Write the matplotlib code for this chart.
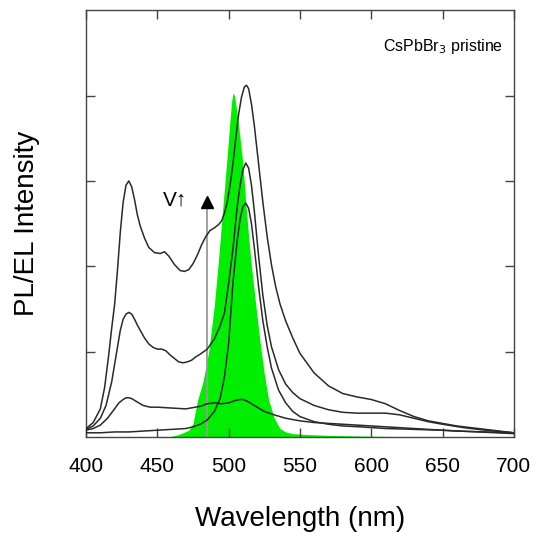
import numpy as np
import matplotlib
matplotlib.use('Agg')
import matplotlib.pyplot as plt

plt.rcParams['font.family'] = ['Liberation Sans', 'DejaVu Sans']

# ---------------------------------------------------------------------------
# EL spectra at increasing voltage
# ---------------------------------------------------------------------------
wl_A = [400, 405, 410, 413, 416, 418, 420, 422, 424, 426, 428, 430, 432, 434, 436,
        438, 441, 444, 448, 452, 455, 458, 462, 466, 469, 472, 475, 478, 481, 484,
        487, 490, 493, 495, 497, 499, 501, 503, 505, 507, 509, 511, 512.5, 514, 516,
        518, 520, 522, 524, 527, 530, 533, 536, 540, 545, 550, 560, 570, 580, 590,
        600, 610, 620, 630, 640, 650, 660, 670, 680, 690, 700]
int_A = [0.10, 0.17, 0.33, 0.58, 0.98, 1.28, 1.55, 1.95, 2.40, 2.75, 2.95, 3.00, 2.93, 2.78, 2.60,
         2.47, 2.33, 2.22, 2.16, 2.15, 2.17, 2.12, 2.02, 1.95, 1.94, 1.96, 2.03, 2.13, 2.25, 2.35,
         2.42, 2.45, 2.49, 2.53, 2.62, 2.75, 2.95, 3.20, 3.50, 3.78, 3.98, 4.10, 4.12, 4.08, 3.90,
         3.65, 3.35, 3.05, 2.75, 2.35, 2.02, 1.76, 1.56, 1.36, 1.16, 0.98, 0.75, 0.60, 0.51, 0.47,
         0.44, 0.39, 0.31, 0.24, 0.19, 0.16, 0.13, 0.11, 0.09, 0.07, 0.05]

wl_B = [400, 405, 410, 414, 418, 420, 422, 424, 426, 428, 430, 432, 434, 436, 438,
        441, 444, 447, 450, 453, 456, 459, 462, 465, 468, 471, 474, 477, 480, 485,
        490, 494, 497, 500, 503, 506, 508, 510, 512, 514, 516, 518, 521, 524, 527,
        530, 535, 540, 545, 550, 560, 570, 580, 590, 600, 610, 620, 630, 640, 650,
        665, 680, 700]
int_B = [0.09, 0.13, 0.22, 0.37, 0.65, 0.85, 1.05, 1.25, 1.38, 1.44, 1.46, 1.44, 1.38, 1.31, 1.25,
         1.16, 1.09, 1.05, 1.03, 1.03, 1.01, 0.96, 0.92, 0.88, 0.87, 0.88, 0.90, 0.94, 0.97, 1.03,
         1.15, 1.30, 1.45, 1.80, 2.20, 2.70, 2.95, 3.13, 3.21, 3.15, 2.95, 2.65, 2.12, 1.66, 1.31,
         1.06, 0.79, 0.62, 0.52, 0.45, 0.37, 0.32, 0.29, 0.28, 0.28, 0.28, 0.26, 0.22, 0.18, 0.15,
         0.11, 0.08, 0.05]

wl_C = [400, 405, 410, 415, 420, 423, 426, 428, 430, 432, 435, 440, 445, 450, 460,
        470, 480, 485, 490, 495, 500, 505, 508, 510, 513, 516, 520, 525, 530, 540,
        550, 560, 570, 580, 600, 620, 640, 660, 680, 700]
int_C = [0.08, 0.10, 0.14, 0.22, 0.33, 0.40, 0.44, 0.46, 0.46, 0.45, 0.42, 0.37, 0.35, 0.35, 0.34,
         0.33, 0.36, 0.39, 0.40, 0.39, 0.40, 0.43, 0.44, 0.44, 0.42, 0.39, 0.35, 0.30, 0.27, 0.22,
         0.19, 0.17, 0.16, 0.15, 0.13, 0.11, 0.09, 0.07, 0.06, 0.05]

wl_D = [400, 410, 420, 430, 440, 450, 460, 470, 475, 480, 485, 490, 494, 497, 500,
        503, 506, 508, 510, 512, 514, 516, 518, 521, 524, 527, 530, 535, 540, 545,
        550, 560, 570, 580, 592, 610, 630, 650, 675, 700]
int_D = [0.05, 0.05, 0.06, 0.06, 0.07, 0.08, 0.09, 0.10, 0.12, 0.15, 0.20, 0.30, 0.45, 0.70, 1.10,
         1.80, 2.30, 2.55, 2.70, 2.74, 2.68, 2.50, 2.22, 1.76, 1.36, 1.06, 0.81, 0.55, 0.40, 0.30,
         0.24, 0.18, 0.15, 0.13, 0.12, 0.10, 0.09, 0.08, 0.06, 0.04]

# PL spectrum (green fill)
wl_PL = [455, 460, 465, 468, 472, 475, 478, 482, 486, 490, 493, 496, 499, 501, 502,
         503, 504, 505, 507, 510, 512, 514, 516, 519, 522, 525, 528, 532, 536, 540,
         545, 555, 570, 600, 650]
int_PL = [0.0, 0.01, 0.03, 0.05, 0.08, 0.16, 0.42, 0.65, 1.00, 1.55, 2.10, 2.70, 3.30, 3.72, 3.92,
          4.03, 4.00, 3.90, 3.65, 3.20, 2.75, 2.35, 2.00, 1.55, 1.12, 0.74, 0.44, 0.22, 0.10, 0.06,
          0.04, 0.03, 0.02, 0.01, 0.0]

spectra = [(wl_A, int_A), (wl_B, int_B), (wl_C, int_C), (wl_D, int_D)]

# ---------------------------------------------------------------------------
fig = plt.figure(figsize=(5.38, 5.33), dpi=100)
ax = fig.add_axes([0.160, 0.180, 0.795, 0.801])

ax.fill_between(wl_PL, int_PL, 0, color='#00ee00', linewidth=0, zorder=1)

for wl, inten in spectra:
    ax.plot(wl, inten, color='#2a2a2a', linewidth=1.1, zorder=3)

# voltage arrow
ax.plot([485, 485], [0, 2.66], color='#999999', linewidth=1.3, zorder=2)
ax.plot(485, 2.75, marker='^', color='black', markersize=8, zorder=4)
ax.text(462.5, 2.78, 'V\u2191', fontsize=15, ha='center', va='center')

ax.text(0.975, 0.915, 'CsPbBr$_3$ pristine', transform=ax.transAxes,
        ha='right', va='center', fontsize=11.5)

ax.set_xlim(400, 700)
ax.set_ylim(0, 5)
ax.set_xticks([400, 450, 500, 550, 600, 650, 700])
ax.set_yticks([1, 2, 3, 4])
ax.set_yticklabels([])
ax.tick_params(direction='in', length=6.5, width=1, colors='#444444',
               top=True, right=True, labelsize=15, labelcolor='black', pad=14)

for s in ax.spines.values():
    s.set_color('#444444')
    s.set_linewidth(1)

ax.set_xlabel('Wavelength (nm)', fontsize=20, labelpad=22)
ax.set_ylabel('PL/EL Intensity', fontsize=20, labelpad=19)

fig.savefig('out.png', dpi=100)
